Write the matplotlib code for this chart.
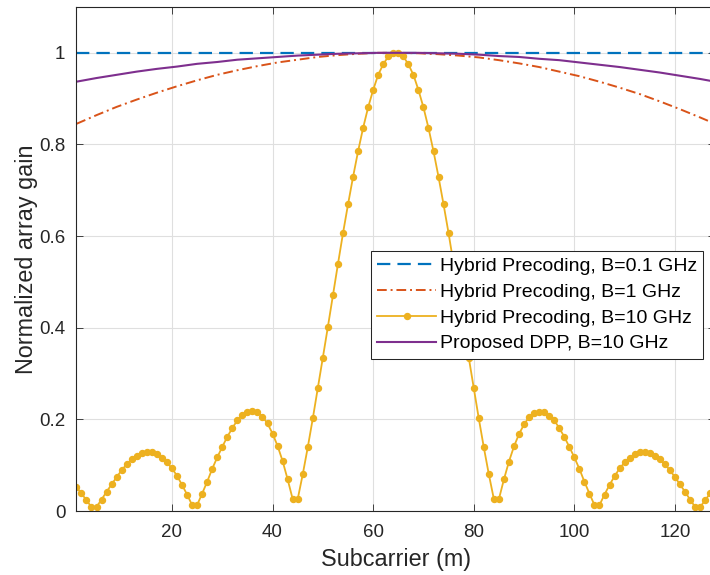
import matplotlib
matplotlib.use("Agg")
import matplotlib.pyplot as plt
import numpy as np

plt.rcParams['font.family'] = ['Liberation Sans', 'DejaVu Sans']

# subcarrier index
m = np.arange(1, 129)

# Hybrid Precoding, B=10 GHz (one point per subcarrier)
gain_10ghz = [
    0.052, 0.039, 0.023, 0.009, 0.009, 0.025, 0.042, 0.058, 0.074, 0.089,
    0.102, 0.113, 0.121, 0.127, 0.129, 0.128, 0.124, 0.116, 0.106, 0.093,
    0.077, 0.057, 0.036, 0.013, 0.013, 0.038, 0.064, 0.092, 0.117, 0.140,
    0.162, 0.181, 0.198, 0.209, 0.215, 0.218, 0.215, 0.206, 0.191, 0.169,
    0.142, 0.109, 0.069, 0.026, 0.026, 0.080, 0.139, 0.202, 0.268, 0.335,
    0.402, 0.471, 0.539, 0.606, 0.669, 0.729, 0.785, 0.836, 0.881, 0.919,
    0.952, 0.975, 0.992, 1.000, 1.000, 0.992, 0.975, 0.952, 0.919, 0.881,
    0.836, 0.785, 0.729, 0.669, 0.606, 0.539, 0.471, 0.402, 0.335, 0.268,
    0.202, 0.139, 0.080, 0.026, 0.026, 0.069, 0.108, 0.141, 0.168, 0.189,
    0.205, 0.213, 0.217, 0.215, 0.208, 0.198, 0.181, 0.162, 0.140, 0.117,
    0.092, 0.064, 0.038, 0.013, 0.013, 0.036, 0.057, 0.076, 0.093, 0.106,
    0.116, 0.124, 0.128, 0.129, 0.127, 0.121, 0.113, 0.102, 0.089, 0.074,
    0.058, 0.042, 0.025, 0.009, 0.009, 0.023, 0.039, 0.052,
]

# smooth curves, sampled every 4 subcarriers
m_coarse = [1, 5, 9, 13, 17, 21, 25, 29, 33, 37, 41, 45, 49, 53, 57, 61, 65,
            69, 73, 77, 81, 85, 89, 93, 97, 101, 105, 109, 113, 117, 121, 125, 128]
gain_01ghz = [1.0] * len(m_coarse)
gain_1ghz = [0.845, 0.864, 0.882, 0.898, 0.913, 0.927, 0.940, 0.952, 0.962,
             0.971, 0.979, 0.985, 0.991, 0.995, 0.998, 1.000, 1.000, 0.999,
             0.997, 0.994, 0.990, 0.984, 0.977, 0.969, 0.959, 0.949, 0.937,
             0.924, 0.910, 0.894, 0.877, 0.859, 0.845]
gain_dpp = [0.937, 0.945, 0.952, 0.959, 0.965, 0.970, 0.976, 0.980, 0.985,
            0.988, 0.991, 0.994, 0.996, 0.998, 0.999, 1.000, 1.000, 1.000,
            0.999, 0.998, 0.996, 0.993, 0.991, 0.987, 0.984, 0.979, 0.974,
            0.969, 0.963, 0.957, 0.950, 0.943, 0.937]

labels = ['Hybrid Precoding, B=0.1 GHz', 'Hybrid Precoding, B=1 GHz',
          'Hybrid Precoding, B=10 GHz', 'Proposed DPP, B=10 GHz']

fig = plt.figure(figsize=(7.1, 5.75), dpi=100)
ax = fig.add_axes([0.1076, 0.1113, 0.8997, 0.8765])

ax.plot(m_coarse, gain_01ghz, color='#0072BD', lw=1.6, dashes=(6, 3.2), label=labels[0])
ax.plot(m_coarse, gain_1ghz, color='#D95319', lw=1.4, dashes=(5, 2, 1, 2), label=labels[1])
ax.plot(m, gain_10ghz, color='#EDB120', lw=1.3, marker='o', ms=4.3, label=labels[2])
ax.plot(m_coarse, gain_dpp, color='#7E2F8E', lw=1.5, label=labels[3])

ax.set_xlim(1, 128)
ax.set_ylim(0, 1.1)
ax.set_xticks([20, 40, 60, 80, 100, 120])
ax.set_yticks([0, 0.2, 0.4, 0.6, 0.8, 1.0])
ax.set_yticklabels(['0', '0.2', '0.4', '0.6', '0.8', '1'])

ax.grid(True, color='#dfdfdf', lw=0.8)
ax.set_axisbelow(True)
for s in ax.spines.values():
    s.set_color('#262626')
    s.set_linewidth(0.8)
ax.tick_params(direction='in', length=5, width=0.6, colors='#262626',
               labelsize=13.5, top=True, right=True)
ax.tick_params(axis='x', pad=9.5)
ax.tick_params(axis='y', pad=8)

ax.set_xlabel('Subcarrier (m)', fontsize=16.8, color='#262626')
ax.set_ylabel('Normalized array gain', fontsize=16.8, color='#262626')
ax.xaxis.set_label_coords(0.5, -0.074)
ax.yaxis.set_label_coords(-0.06, 0.5)

leg = ax.legend(loc='upper left', bbox_to_anchor=(371 / 710, 1 - 251 / 575),
                bbox_transform=fig.transFigure, fontsize=14, frameon=True,
                fancybox=False, framealpha=1, edgecolor='#262626',
                borderaxespad=0, borderpad=0.33, labelspacing=0.42,
                handlelength=3.0, handletextpad=0.2, numpoints=1)
leg.get_frame().set_linewidth(0.75)

plt.savefig('out.png', dpi=100)
